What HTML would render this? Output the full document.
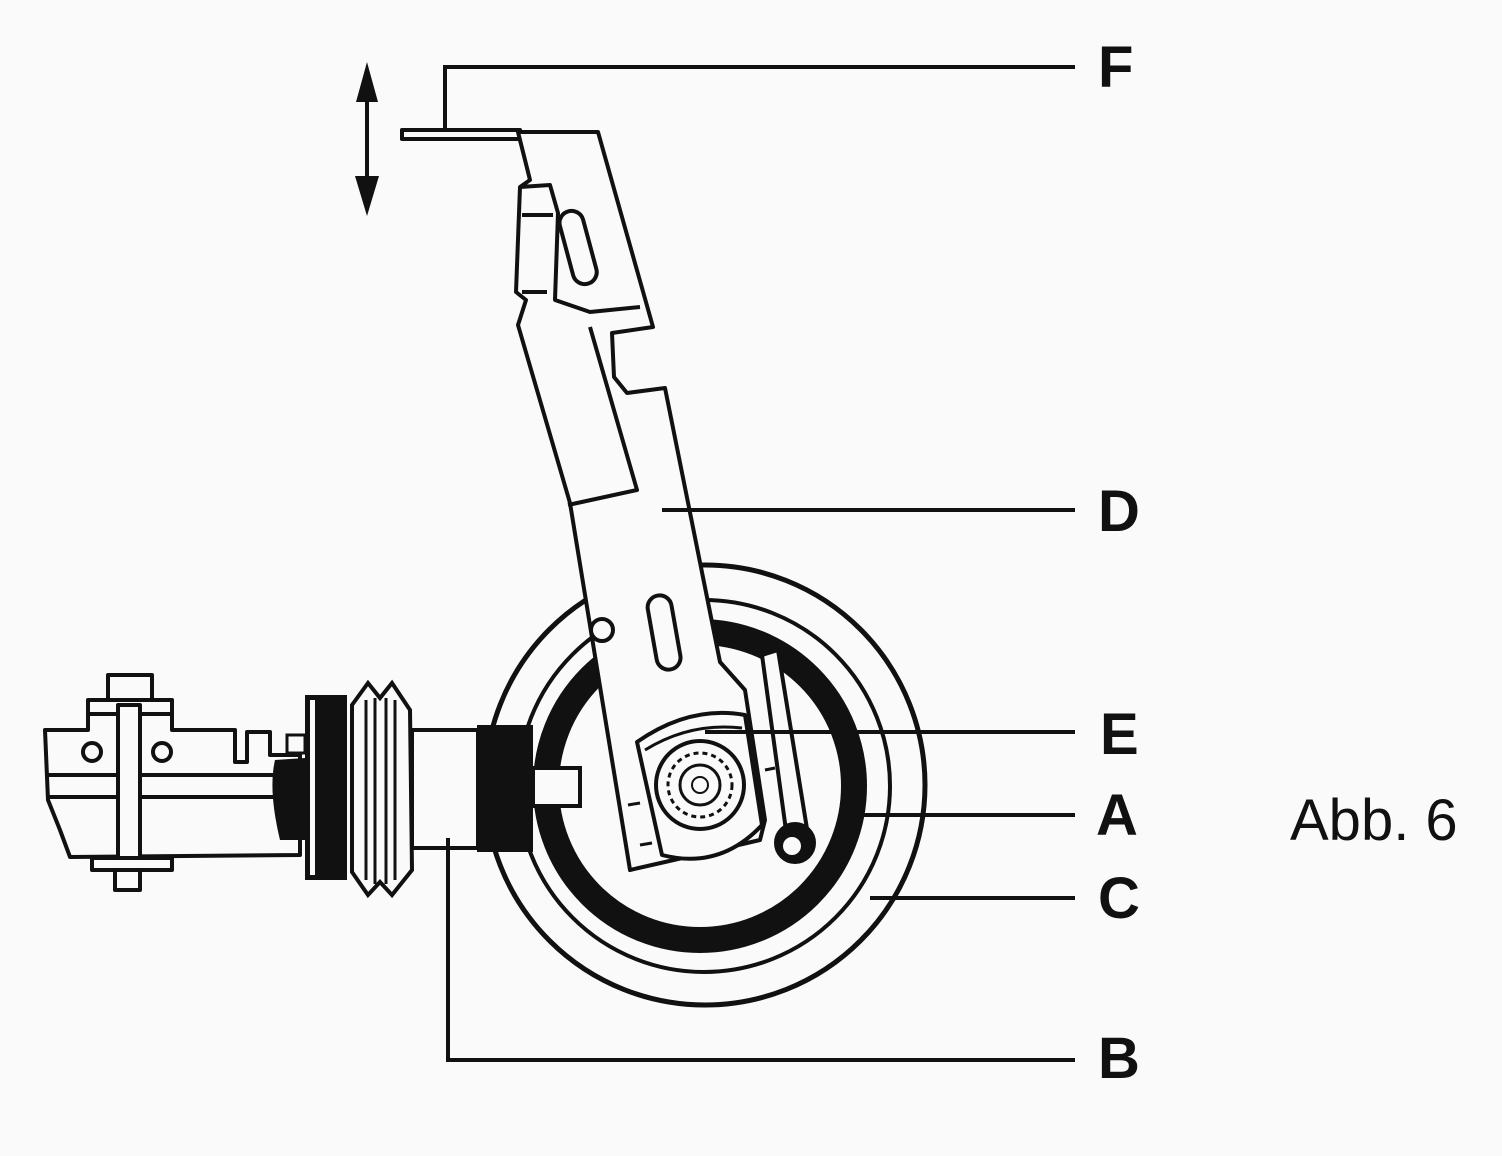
<!DOCTYPE html>
<html><head><style>
html,body{margin:0;padding:0;background:#fafafa;}
svg{display:block}
text{font-family:"Liberation Sans",sans-serif;fill:#111}
</style></head><body>
<svg width="1502" height="1156" viewBox="0 0 1502 1156" xmlns="http://www.w3.org/2000/svg">
<rect width="1502" height="1156" fill="#fafafa"/>
<g stroke="#111" stroke-width="4" fill="none">
<line x1="367" y1="90" x2="367" y2="190"/>
</g>
<polygon points="367,62 356,102 378,102" fill="#111"/>
<polygon points="367,216 355,176 379,176" fill="#111"/>

<!-- wheel -->
<circle cx="705" cy="785" r="220" fill="#fafafa" stroke="#111" stroke-width="5"/>
<circle cx="704" cy="786" r="186" fill="none" stroke="#111" stroke-width="4"/>
<circle cx="700" cy="786" r="154" fill="none" stroke="#111" stroke-width="26"/>

<!-- left housing -->
<g stroke="#111" stroke-width="4" fill="#fafafa" stroke-linejoin="round">
<path d="M45,730 L88,730 L88,703 L172,703 L172,730 L235,730 L235,762 L247,762 L247,732 L270,732 L270,755 L300,755 L300,855 L70,857 L60,830 L48,800 Z"/>
<line x1="48" y1="775" x2="300" y2="775"/>
<line x1="48" y1="797" x2="300" y2="797"/>
<rect x="88" y="700" width="84" height="14"/>
<rect x="108" y="675" width="44" height="25"/>
<rect x="118" y="705" width="22" height="155"/>
<rect x="92" y="858" width="80" height="12"/>
<rect x="115" y="870" width="25" height="20"/>
<circle cx="92" cy="752" r="9"/>
<circle cx="162" cy="752" r="9"/>
<rect x="412" y="730" width="66" height="118"/>
</g>
<path d="M275,760 Q268,790 280,840 L305,840 L305,758 Z" fill="#111"/>
<rect x="287" y="735" width="18" height="18" fill="#fafafa" stroke="#111" stroke-width="3"/>
<rect x="305" y="695" width="42" height="185" fill="#111"/>
<rect x="310" y="700" width="5" height="175" fill="#fafafa"/>
<path d="M352,705 L368,683 L380,698 L392,683 L410,710 L412,870 L392,895 L380,882 L368,895 L352,872 Z" fill="#fafafa" stroke="#111" stroke-width="4"/>
<g stroke="#111" stroke-width="3"><line x1="366" y1="700" x2="366" y2="880"/><line x1="375" y1="698" x2="375" y2="884"/><line x1="386" y1="698" x2="386" y2="884"/><line x1="395" y1="700" x2="395" y2="880"/></g>
<rect x="477" y="725" width="56" height="127" fill="#111"/>
<rect x="533" y="768" width="47" height="38" fill="#fafafa" stroke="#111" stroke-width="4"/>

<!-- arm D -->
<g stroke="#111" stroke-width="4" fill="#fafafa" stroke-linejoin="round">
<rect x="402" y="130" width="118" height="9"/>
<path d="M518,132 L598,132 L653,327 L612,333 L614,377 L627,393 L665,388 L720,662 L745,690 L765,820 L760,840 L665,862 L630,870 L570,503 L518,325 L526,300 L516,292 L520,187 L530,180 Z"/>
<path d="M520,187 L550,185 L558,213 L555,300 L590,312 L640,307" fill="none"/>
<path d="M590,327 L637,490 L568,505" fill="none"/>
<line x1="522" y1="215" x2="553" y2="215"/>
<line x1="522" y1="292" x2="547" y2="292"/>
<rect x="566" y="210" width="24" height="75" rx="12" transform="rotate(-15 578 247)"/>
<circle cx="602" cy="630" r="11"/>
<rect x="652" y="595" width="24" height="75" rx="12" transform="rotate(-10 664 632)"/>
<path d="M637,742 Q690,705 745,715 L762,825 Q720,870 662,855 Z"/>
<path d="M645,750 Q690,722 742,728" fill="none" stroke-width="3"/>
<path d="M762,655 L778,650 L808,835 L788,845 Z"/>
<circle cx="795" cy="843" r="19" fill="#111"/>
<circle cx="792" cy="846" r="10" fill="#fafafa" stroke-width="2"/>
<circle cx="700" cy="785" r="44"/>
<circle cx="700" cy="785" r="32" stroke-width="3" stroke-dasharray="5 4"/>
<circle cx="700" cy="785" r="20" stroke-width="3"/>
<circle cx="700" cy="785" r="8" stroke-width="2"/>
<line x1="628" y1="805" x2="640" y2="803" stroke-width="3"/>
<line x1="640" y1="845" x2="652" y2="843" stroke-width="3"/>
<line x1="765" y1="770" x2="775" y2="768" stroke-width="3"/>
</g>

<!-- leaders on top -->
<g stroke="#111" stroke-width="4" fill="none">
<polyline points="445,130 445,67 1075,67"/>
<line x1="662" y1="510" x2="1075" y2="510"/>
<line x1="705" y1="732" x2="1075" y2="732"/>
<line x1="862" y1="815" x2="1075" y2="815"/>
<line x1="870" y1="898" x2="1075" y2="898"/>
<polyline points="448,838 448,1060 1075,1060"/>
</g>

<g font-weight="bold" font-size="58">
<text x="1098" y="87">F</text>
<text x="1098" y="531">D</text>
<text x="1100" y="754">E</text>
<text x="1096" y="835">A</text>
<text x="1098" y="918">C</text>
<text x="1098" y="1078">B</text>
</g>
<text x="1290" y="840" font-size="58">Abb. 6</text>
</svg>
</body></html>
